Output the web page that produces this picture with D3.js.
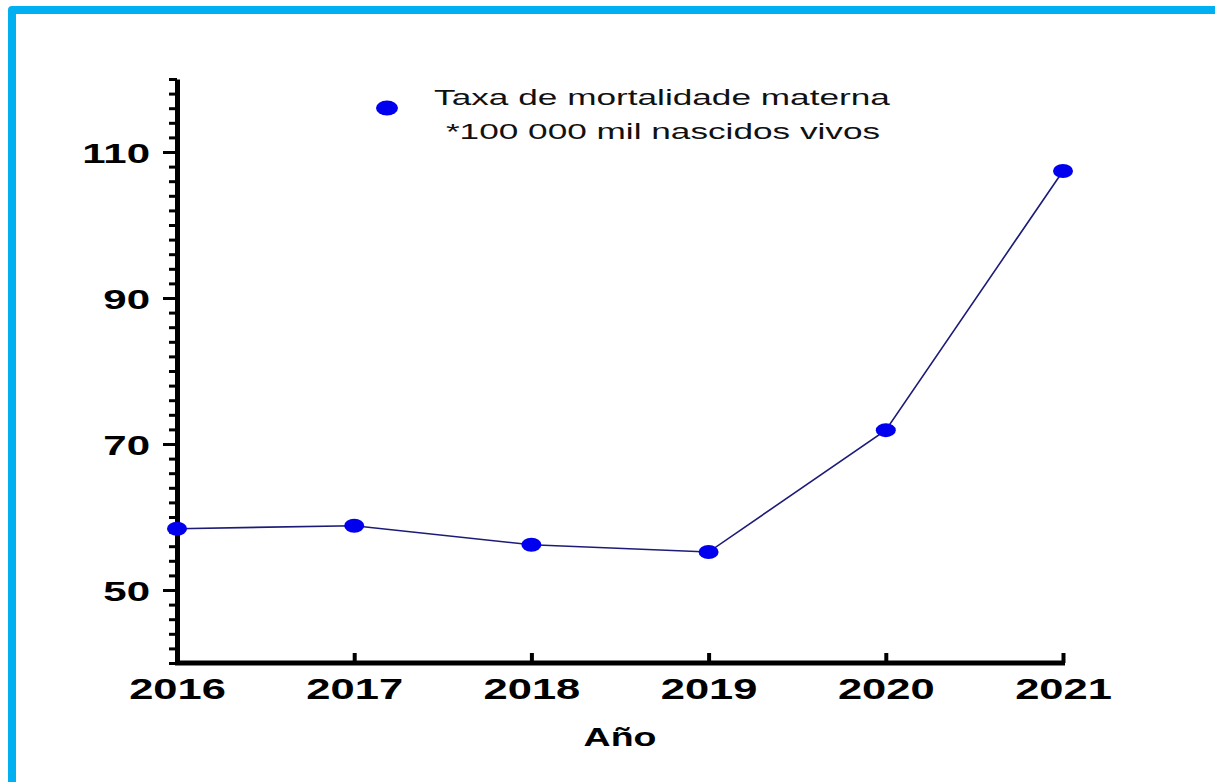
<!DOCTYPE html>
<html>
<head>
<meta charset="utf-8">
<script src="https://cdn.jsdelivr.net/npm/d3@7"></script>
<style>
  html, body { margin: 0; padding: 0; background: #fff; }
  svg { display: block; }
</style>
</head>
<body>
<div id="chart"></div>
<script>
const years = ["2016", "2017", "2018", "2019", "2020", "2021"];
const rates = [58.4, 58.8, 56.2, 55.2, 71.9, 107.4];
const majorTicks = [50, 70, 90, 110];
const legendLines = ["Taxa de mortalidade materna", "*100 000 mil nascidos vivos"];
const axisTitle = "Año";

const width = 1215;
const height = 782;
const stretch = 1.5; // the source picture is stretched sideways
const fontFamily = "'Liberation Sans', Arial, sans-serif";

const svg = d3
  .select("#chart")
  .append("svg")
  .attr("width", width)
  .attr("height", height)
  .attr("viewBox", [0, 0, width, height]);

svg.append("rect").attr("width", width).attr("height", height).attr("fill", "#fff");

// cyan frame (top and left edge only visible)
svg
  .append("path")
  .attr("d", `M12,${height + 10} L12,10 L${width + 10},10`)
  .attr("fill", "none")
  .attr("stroke", "#00b0f0")
  .attr("stroke-width", 8)
  .attr("stroke-linejoin", "round");

const x = d3.scalePoint().domain(years).range([177, 1063]);
const y = d3.scaleLinear().domain([40, 120]).range([663, 79]);

// minor y ticks
const minor = d3.range(40, 121, 2).filter((v) => !majorTicks.includes(v));
svg
  .append("g")
  .attr("transform", "translate(177,0)")
  .call(d3.axisLeft(y).tickValues(minor).tickSize(8).tickFormat("").tickSizeOuter(0))
  .call((g) => g.select(".domain").remove())
  .call((g) => g.selectAll(".tick line").attr("stroke", "#000").attr("stroke-width", 3));

// y axis
const yAxis = svg
  .append("g")
  .attr("transform", "translate(177,0)")
  .call(d3.axisLeft(y).tickValues(majorTicks).tickSize(14).tickSizeOuter(0))
  .call((g) => g.select(".domain").attr("stroke", "#000").attr("stroke-width", 5))
  .call((g) => g.selectAll(".tick line").attr("stroke", "#000").attr("stroke-width", 3));

yAxis
  .selectAll(".tick text")
  .attr("x", null)
  .attr("dy", "0.36em")
  .attr("transform", `translate(-27,0) scale(${stretch},1)`)
  .attr("fill", "#000")
  .style("font", `bold 28px ${fontFamily}`);

// x axis
const xAxis = svg
  .append("g")
  .attr("transform", `translate(0,${y(40)})`)
  .call(d3.axisBottom(x).tickSize(-10).tickSizeOuter(0))
  .call((g) => g.select(".domain").attr("stroke", "#000").attr("stroke-width", 5).attr("d", `M175,0H1065`))
  .call((g) => g.selectAll(".tick line").attr("stroke", "#000").attr("stroke-width", 4));

xAxis
  .selectAll(".tick text")
  .attr("y", null)
  .attr("dy", null)
  .attr("transform", `translate(0,36) scale(${stretch},1)`)
  .attr("fill", "#000")
  .style("font", `bold 29px ${fontFamily}`);

svg
  .append("text")
  .attr("transform", `translate(${(x.range()[0] + x.range()[1]) / 2},746) scale(${stretch},1)`)
  .attr("text-anchor", "middle")
  .style("font", `bold 25px ${fontFamily}`)
  .text(axisTitle);

// line + markers
const points = years.map((yr, i) => ({ year: yr, value: rates[i] }));

const line = d3
  .line()
  .x((d) => x(d.year))
  .y((d) => y(d.value));

svg
  .append("path")
  .datum(points)
  .attr("fill", "none")
  .attr("stroke", "#1c1c78")
  .attr("stroke-width", 1.6)
  .attr("d", line);

svg
  .append("g")
  .selectAll("ellipse")
  .data(points)
  .join("ellipse")
  .attr("cx", (d) => x(d.year))
  .attr("cy", (d) => y(d.value))
  .attr("rx", 10)
  .attr("ry", 7)
  .attr("fill", "#0000ee");

// legend
const legend = svg.append("g");
legend
  .append("ellipse")
  .attr("cx", 387)
  .attr("cy", 108)
  .attr("rx", 11)
  .attr("ry", 7.5)
  .attr("fill", "#0000ee");

legend
  .selectAll("text")
  .data(legendLines)
  .join("text")
  .attr("text-anchor", "middle")
  .attr("transform", (d, i) => `translate(${i === 0 ? 662 : 663},${105 + i * 34}) scale(1.6,1)`)
  .attr("fill", "#111")
  .style("font", `22px ${fontFamily}`)
  .text((d) => d);
</script>
</body>
</html>
